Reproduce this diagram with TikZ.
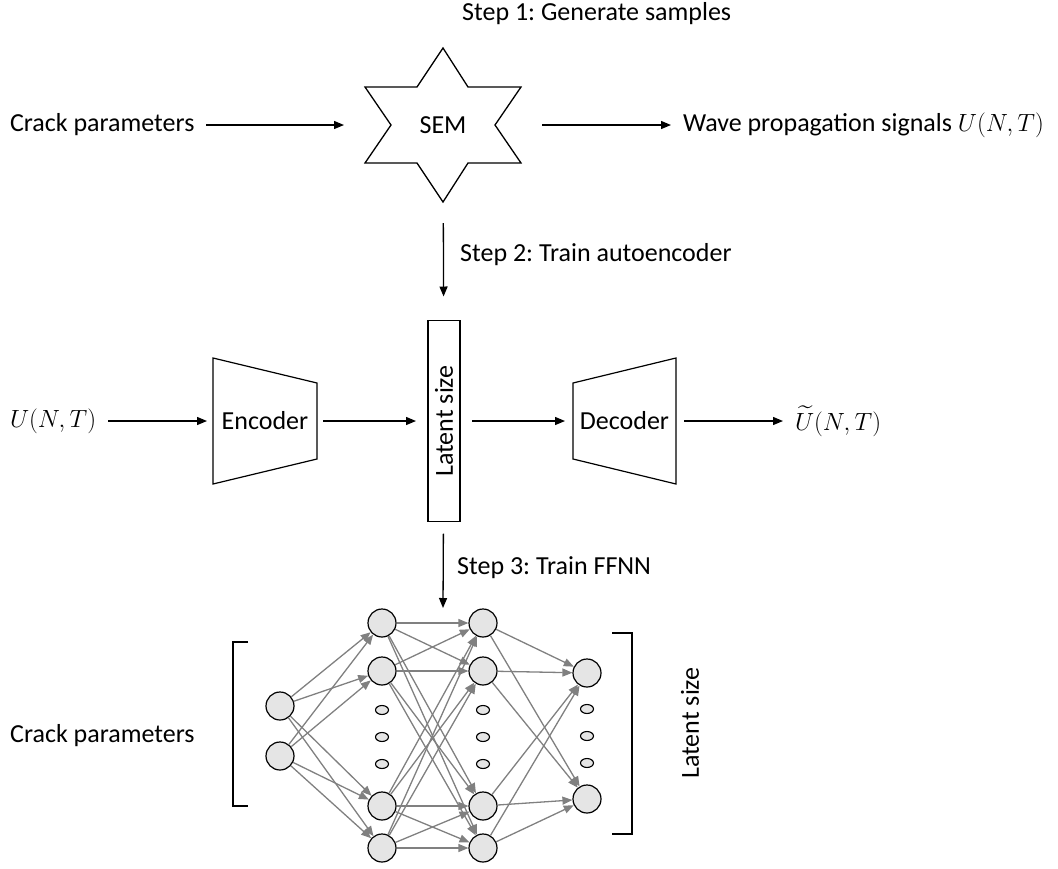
\documentclass[tikz,border=0pt]{standalone}
\usepackage{amsmath,amssymb}
\usepackage{fontspec}
\setmainfont{Carlito}
\usetikzlibrary{arrows.meta,shapes.geometric}
\frenchspacing

\begin{document}
\begin{tikzpicture}[x=1pt,y=-1pt,font=\fontsize{26}{31}\selectfont,
    flow/.style={draw=black,line width=1.3pt,-{Triangle[length=10pt,width=8pt]}}]
\useasboundingbox (0,0) rectangle (1058,868);

% step 1: samples
\begin{scope}[every node/.style={inner sep=0pt,outer sep=12pt}]
    \node[anchor=west] (crack1) at (-2,125) {Crack parameters};
    \node[minimum width=156pt,minimum height=154pt,outer sep=21pt] (sem) at (443,125) {SEM};
    \node[anchor=west] (wave) at (671,125) {Wave propagation signals $U(N,T)$};
\end{scope}
\draw[line width=1.3pt] (443,48) -- (468,87) -- (521,87) -- (495,125) -- (521,163) -- (468,163)
    -- (443,202) -- (417,163) -- (365,163) -- (391,125) -- (365,87) -- (417,87) -- cycle;

% step 2: autoencoder
\begin{scope}[every node/.style={inner sep=0pt,outer sep=12pt}]
    \node[anchor=west] (uin) at (-2,421) {$U(N,T)$};
    \node[minimum width=104pt,minimum height=126pt,outer sep=6pt] (enc) at (265,421) {Encoder};
    \node[draw,line width=1.6pt,minimum width=201pt,minimum height=32pt,rotate=90] (latent) at (444,421) {Latent size};
    \node[minimum width=103pt,minimum height=126pt,outer sep=8pt] (dec) at (624.5,421) {Decoder};
    \node[anchor=west] (uout) at (783,421) {$\widetilde{U}(N,T)$};
\end{scope}
\draw[line width=1.2pt] (213,358) -- (317,383) -- (317,459) -- (213,484) -- cycle;
\draw[line width=1.2pt] (573,383) -- (676,358) -- (676,484) -- (573,459) -- cycle;

\begin{scope}[every node/.style={inner sep=0pt,anchor=west}]
    \node (step1) at (462,14) {Step 1: Generate samples};
    \node (step2) at (460,255) {Step 2: Train autoencoder};
    \node (step3) at (457,568) {Step 3: Train FFNN};
    \node (crack2) at (10,736) {Crack parameters};
\end{scope}
\node[inner sep=0pt,rotate=90] (latent2) at (690,723) {Latent size};
\coordinate (nntop) at (443,608);

\path (crack1) edge[flow] (sem);
\path (sem) edge[flow] (wave);
\path (uin) edge[flow] (enc);
\path (enc) edge[flow] (latent);
\path (latent) edge[flow] (dec);
\path (dec) edge[flow] (uout);
\path (sem) edge[flow,shorten >=12pt] (latent);
\path (latent) edge[flow] (nntop);

% step 3: FFNN
\begin{scope}[every node/.style={circle,draw,line width=1.2pt,fill=gray!20,minimum size=28pt,inner sep=0pt}]
    \node (a1) at (280,706) {};
    \node (a2) at (280,756) {};
    \node (b1) at (382,623) {};
    \node (b2) at (382,671) {};
    \node (b3) at (382,806) {};
    \node (b4) at (382,848) {};
    \node (c1) at (483,623) {};
    \node (c2) at (483,671) {};
    \node (c3) at (483,806) {};
    \node (c4) at (483,848) {};
    \node (d1) at (587,673) {};
    \node (d2) at (587,799) {};
\end{scope}

\begin{scope}[every node/.style={ellipse,draw,line width=1.1pt,fill=gray!20,minimum width=13pt,minimum height=9pt,inner sep=0pt}]
    \node (bdot1) at (382,710) {};
    \node (bdot2) at (382,737) {};
    \node (bdot3) at (382,764) {};
    \node (cdot1) at (483,710) {};
    \node (cdot2) at (483,737) {};
    \node (cdot3) at (483,764) {};
    \node (ddot1) at (587,709) {};
    \node (ddot2) at (587,736) {};
    \node (ddot3) at (587,763) {};
\end{scope}

\begin{scope}[every edge/.style={draw=gray,line width=1.3pt,-{Triangle[length=10pt,width=8pt]}}]
    \path (a1) edge (b1);
    \path (a1) edge (b2);
    \path (a1) edge (b3);
    \path (a1) edge (b4);
    \path (a2) edge (b1);
    \path (a2) edge (b2);
    \path (a2) edge (b3);
    \path (a2) edge (b4);
    \path (b1) edge (c1);
    \path (b1) edge (c2);
    \path (b1) edge (c3);
    \path (b1) edge (c4);
    \path (b2) edge (c1);
    \path (b2) edge (c2);
    \path (b2) edge (c3);
    \path (b2) edge (c4);
    \path (b3) edge (c1);
    \path (b3) edge (c2);
    \path (b3) edge (c3);
    \path (b3) edge (c4);
    \path (b4) edge (c1);
    \path (b4) edge (c2);
    \path (b4) edge (c3);
    \path (b4) edge (c4);
    \path (c1) edge (d1);
    \path (c1) edge (d2);
    \path (c2) edge (d1);
    \path (c2) edge (d2);
    \path (c3) edge (d1);
    \path (c3) edge (d2);
    \path (c4) edge (d1);
    \path (c4) edge (d2);
\end{scope}

% brackets
\draw[line width=1.3pt] (248,642) -- (233,642) -- (233,806) -- (248,806);
\draw[line width=1.3pt] (612,633) -- (632,633) -- (632,834) -- (612,834);
\end{tikzpicture}
\end{document}
